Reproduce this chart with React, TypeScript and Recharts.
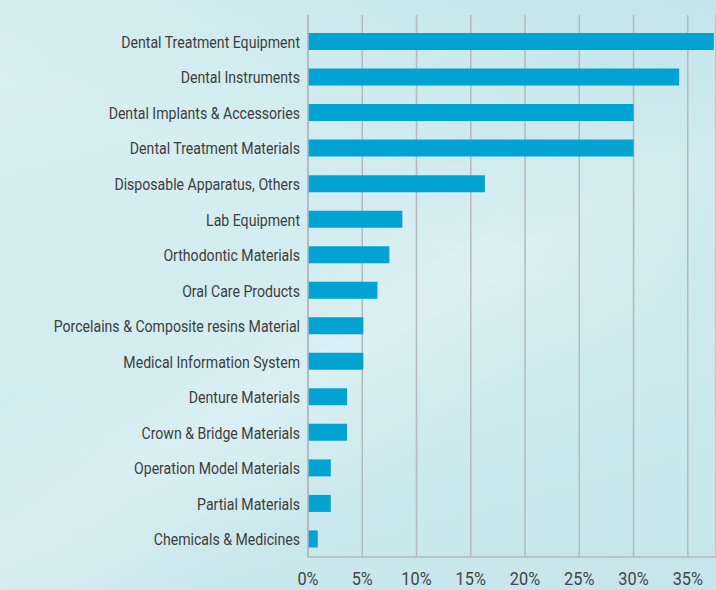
import { BarChart, Bar, XAxis, YAxis, CartesianGrid } from "recharts";

// categories top to bottom, share of market in %
const categories = [
  "Dental Treatment Equipment",
  "Dental Instruments",
  "Dental Implants & Accessories",
  "Dental Treatment Materials",
  "Disposable Apparatus, Others",
  "Lab Equipment",
  "Orthodontic Materials",
  "Oral Care Products",
  "Porcelains & Composite resins Material",
  "Medical Information System",
  "Denture Materials",
  "Crown & Bridge Materials",
  "Operation Model Materials",
  "Partial Materials",
  "Chemicals & Medicines",
];
const shares = [37.4, 34.2, 30.0, 30.0, 16.3, 8.7, 7.5, 6.4, 5.1, 5.1, 3.6, 3.6, 2.1, 2.1, 0.9];
const xTicks = [0, 5, 10, 15, 20, 25, 30, 35];

const data = categories.map((name, i) => ({ name, value: shares[i] }));

const labelFont = "Roboto, 'Noto Sans', sans-serif";
const gridColor = "#b3b9bc";

// the original uses a condensed face, so squeeze the text horizontally
const CategoryTick = (props: any) => {
  const { x, y, payload } = props;
  return (
    <text
      transform={`translate(${x},${y}) scale(0.83,1)`}
      textAnchor="end"
      dy="0.36em"
      fill="#3d3d3d"
      fontSize={17}
      fontFamily={labelFont}
    >
      {payload.value}
    </text>
  );
};

const PercentTick = (props: any) => {
  const { x, y, payload } = props;
  return (
    <text
      transform={`translate(${x},${y}) scale(0.86,1)`}
      textAnchor="middle"
      dy="0.71em"
      fill="#444"
      fontSize={19}
      fontFamily={labelFont}
    >
      {`${payload.value}%`}
    </text>
  );
};

export default function App() {
  return (
    <div
      style={{
        position: "absolute",
        left: 0,
        top: 0,
        width: 716,
        height: 590,
        overflow: "hidden",
        background: "linear-gradient(165deg, #dbf0f3 0%, #d2ecf0 45%, #c6e5eb 100%)",
      }}
    >
      {/* soft decorative swooshes */}
      <div
        style={{
          position: "absolute",
          inset: 0,
          background:
            "linear-gradient(150deg, rgba(255,255,255,0) 40%, rgba(255,255,255,0.25) 55%, rgba(255,255,255,0) 70%)",
        }}
      />
      <div
        style={{
          position: "absolute",
          inset: 0,
          background: "linear-gradient(20deg, rgba(190,228,234,0) 60%, rgba(178,220,228,0.55) 100%)",
        }}
      />
      <BarChart
        width={716}
        height={590}
        data={data}
        layout="vertical"
        margin={{ top: 15, right: 0, bottom: 0, left: 0 }}
        barSize={17}
        style={{ position: "absolute", left: 0, top: 0 }}
      >
        <CartesianGrid horizontal={false} stroke={gridColor} strokeWidth={1.5} />
        <XAxis
          type="number"
          domain={[0, 37.6]}
          ticks={xTicks}
          allowDataOverflow
          height={33}
          axisLine={{ stroke: gridColor, strokeWidth: 1.5 }}
          tickLine={false}
          tickSize={0}
          tickMargin={14}
          tick={<PercentTick />}
        />
        <YAxis
          type="category"
          dataKey="name"
          width={308}
          padding={{ top: 9, bottom: 0 }}
          axisLine={{ stroke: gridColor, strokeWidth: 1.5 }}
          tickLine={false}
          tickSize={0}
          tickMargin={8}
          interval={0}
          tick={<CategoryTick />}
        />
        <Bar dataKey="value" fill="#00a3d2" isAnimationActive={false} />
      </BarChart>
    </div>
  );
}
